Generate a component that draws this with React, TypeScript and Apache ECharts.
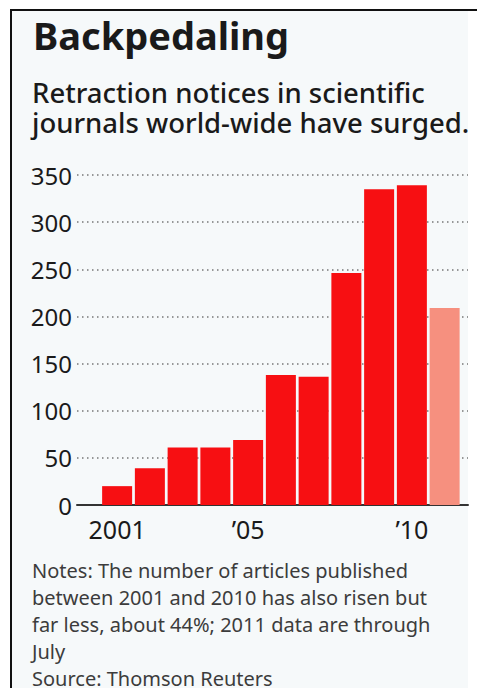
import React, { useEffect, useRef } from "react";
import * as echarts from "echarts";

const years = ["", "2001", "2002", "2003", "2004", "2005", "2006", "2007", "2008", "2009", "2010", "2011"];
const tickLabels = ["", "2001", "", "", "", "\u201905", "", "", "", "", "\u201910", ""];
const retractions = [null, 20, 39, 61, 61, 69, 138, 136, 246, 335, 339, 209];
const partialYear = "2011";
const yTicks = [0, 50, 100, 150, 200, 250, 300, 350];

const titleText = "Backpedaling";
const subtitleLines = ["Retraction notices in scientific", "journals world-wide have surged."];
const noteLines = [
  "Notes: The number of articles published",
  "between 2001 and 2010 has also risen but",
  "far less, about 44%; 2011 data are through",
  "July",
  "Source: Thomson Reuters",
];

const FONT = "'Noto Sans', 'Open Sans', sans-serif";

export default function App() {
  const ref = useRef<HTMLDivElement>(null);
  useEffect(() => {
    if (!ref.current) return;
    const chart = echarts.init(ref.current, null, { renderer: "svg" });
    const data = retractions.map((v, i) => ({
      value: v,
      itemStyle: { color: years[i] === partialYear ? "#f6907f" : "#f70f12" },
    }));
    const yMin = yTicks[0];
    const yMax = yTicks[yTicks.length - 1];
    const subtitleGraphics = subtitleLines.map((t, i) => ({
      type: "text", left: 32, top: 78 + i * 30,
      style: { text: t, font: `500 27.5px ${FONT}`, fill: "#1a1a1a" },
    }));
    const noteGraphics = noteLines.map((t, i) => ({
      type: "text", left: 32, top: 560 + i * 27,
      style: { text: t, font: `20px ${FONT}`, fill: "#3c3c3c" },
    }));
    chart.setOption({
      animation: false,
      backgroundColor: "#ffffff",
      textStyle: { fontFamily: FONT },
      graphic: [
        { type: "rect", shape: { x: 12, y: 11, width: 456, height: 677 }, style: { fill: "#f6f9fa" }, z: -10, silent: true },
        { type: "line", shape: { x1: 10, y1: 10, x2: 477, y2: 10 }, style: { stroke: "#111", lineWidth: 2 }, silent: true },
        { type: "line", shape: { x1: 11, y1: 9, x2: 11, y2: 688 }, style: { stroke: "#111", lineWidth: 2 }, silent: true },
        {
          type: "text", left: 33, top: 16,
          style: { text: titleText, font: `bold 38px ${FONT}`, fill: "#1a1a1a" },
        },
        ...subtitleGraphics,
        ...noteGraphics,
      ],
      grid: [
        { left: 77, right: 9, top: 175, bottom: 183, containLabel: false },
        { left: 68, right: 16, top: 175, bottom: 183, containLabel: false },
      ],
      xAxis: [
        {
          type: "category",
          gridIndex: 0,
          data: years,
          axisLine: { lineStyle: { color: "#333", width: 2 } },
          axisTick: { show: false },
          axisLabel: { show: false },
        },
        {
          type: "category",
          gridIndex: 1,
          data: years,
          boundaryGap: true,
          axisLine: { show: false },
          axisTick: { show: false },
          axisLabel: {
            interval: 0,
            formatter: (_v: string, i: number) => tickLabels[i],
            fontSize: 25,
            color: "#1a1a1a",
            margin: 11,
            fontFamily: FONT,
          },
        },
      ],
      yAxis: [
        {
          type: "value",
          gridIndex: 0,
          min: yMin,
          max: yMax,
          interval: 50,
          axisLine: { show: false },
          axisTick: { show: false },
          axisLabel: { fontSize: 24, color: "#1a1a1a", margin: 5, fontFamily: FONT },
          splitLine: { lineStyle: { color: "#777", width: 1.5, type: [1.5, 3.5] } },
        },
        {
          type: "value",
          gridIndex: 1,
          min: yMin,
          max: yMax,
          interval: 50,
          show: false,
          splitLine: { show: false },
        },
      ],
      series: [
        {
          type: "bar",
          xAxisIndex: 1,
          yAxisIndex: 1,
          data,
          barWidth: 30,
          z: 3,
        },
      ],
    });
    return () => chart.dispose();
  }, []);
  return (
    <div
      ref={ref}
      style={{ position: "fixed", left: 0, top: 0, width: 477, height: 688 }}
    />
  );
}
